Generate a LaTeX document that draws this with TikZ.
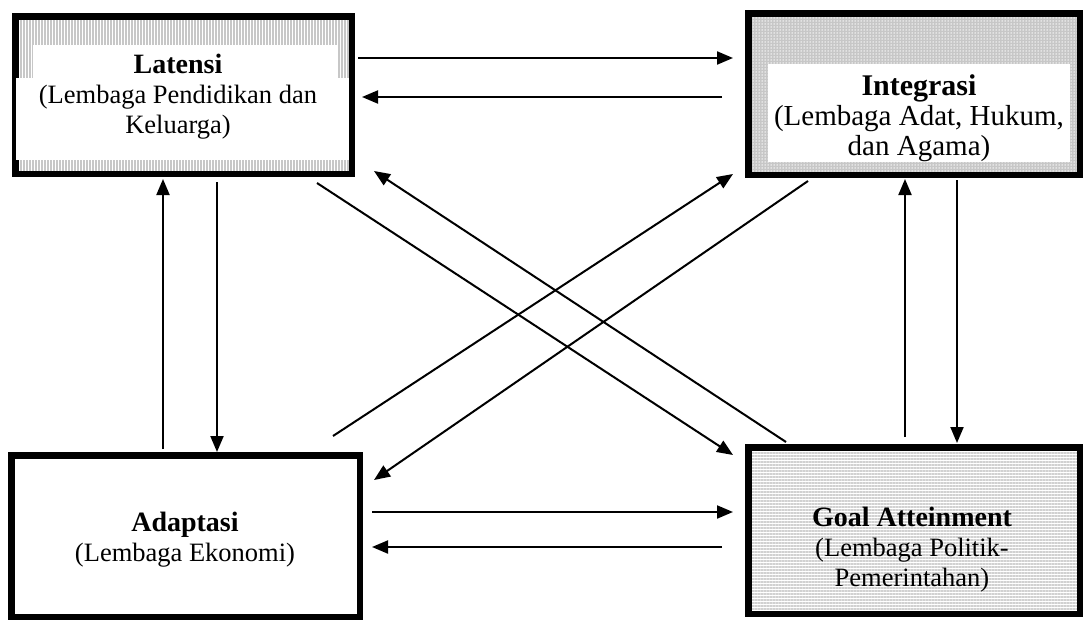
\documentclass[tikz,border=0pt]{standalone}
\usepackage{fontspec}
\setmainfont{Liberation Serif}
\usetikzlibrary{arrows.meta,patterns.meta}
\newcommand{\boxtitle}[1]{{\fontsize{28}{30}\selectfont\bfseries #1}}
\newcommand{\bigboxtitle}[1]{{\fontsize{30}{30}\selectfont\bfseries #1}}
\begin{document}
\begin{tikzpicture}[x=1pt,y=-1pt,
  box/.style={draw=black,line width=6.5pt,inner sep=0pt,outer sep=0pt},
  label/.style={align=center,inner sep=0pt,font=\fontsize{26.5}{30}\selectfont},
  biglabel/.style={align=center,inner sep=0pt,font=\fontsize{29}{30}\selectfont},
  conn/.style={line width=2pt,-{Triangle[length=16pt,width=13pt]}},
  vlines/.style={pattern={Lines[angle=90,distance=3pt,line width=1.3pt]},pattern color=black!22},
  hlines/.style={pattern={Lines[angle=0,distance=3pt,line width=1.2pt]},pattern color=black!18},
  dotted fill/.style={preaction={fill=black!22},pattern={Dots[distance=3pt,radius=0.75pt]},pattern color=white}]
\useasboundingbox[fill=white] (0,0) rectangle (1084,621);

% four institution boxes
\node[box,vlines,minimum width=336.5pt,minimum height=157.5pt] (L) at (183.5,95) {};
\fill[white] (33,45) rectangle (338,160);
\fill[white] (16,78) rectangle (349,160);
\node[box,dotted fill,minimum width=331.5pt,minimum height=161.5pt] (I) at (914,94) {};
\fill[white] (768,64) rectangle (1070,162);
\node[box,fill=white,minimum width=348.5pt,minimum height=161.5pt] (A) at (185.5,536) {};
\node[box,hlines,minimum width=331.5pt,minimum height=166.5pt] (G) at (914,530.5) {};

% box texts
\node[label] (Lt) at (178,97) {\boxtitle{Latensi}\\(Lembaga Pendidikan dan\\Keluarga)};
\node[biglabel] (It) at (919,118) {\bigboxtitle{Integrasi}\\(Lembaga Adat, Hukum,\\dan Agama)};
\node[label] (At) at (185,540) {\boxtitle{Adaptasi}\\(Lembaga Ekonomi)};
\node[label] (Gt) at (912,550) {\boxtitle{Goal Atteinment}\\(Lembaga Politik-\\Pemerintahan)};

% connector end points
\coordinate (LIa) at (358,58);   \coordinate (LIb) at (733,58);
\coordinate (ILa) at (722,97);   \coordinate (ILb) at (362,97);
\coordinate (AGa) at (372,512);  \coordinate (AGb) at (733,512);
\coordinate (GAa) at (722,547);  \coordinate (GAb) at (372,547);
\coordinate (ALa) at (163,449);  \coordinate (ALb) at (163,179);
\coordinate (LAa) at (217,182);  \coordinate (LAb) at (217,452);
\coordinate (GIa) at (905,437);  \coordinate (GIb) at (905,179);
\coordinate (IGa) at (957,180);  \coordinate (IGb) at (957,443);
\coordinate (LGa) at (317,183);  \coordinate (LGb) at (733,455);
\coordinate (GLa) at (786,442);  \coordinate (GLb) at (374,171);
\coordinate (AIa) at (333,436);  \coordinate (AIb) at (733,174);
\coordinate (IAa) at (808,181);  \coordinate (IAb) at (374,480);

% connectors
\draw[conn] (LIa) -- (LIb);
\draw[conn] (ILa) -- (ILb);
\draw[conn] (AGa) -- (AGb);
\draw[conn] (GAa) -- (GAb);
\draw[conn] (ALa) -- (ALb);
\draw[conn] (LAa) -- (LAb);
\draw[conn] (GIa) -- (GIb);
\draw[conn] (IGa) -- (IGb);
\draw[conn] (LGa) -- (LGb);
\draw[conn] (GLa) -- (GLb);
\draw[conn] (AIa) -- (AIb);
\draw[conn] (IAa) -- (IAb);
\end{tikzpicture}
\end{document}
